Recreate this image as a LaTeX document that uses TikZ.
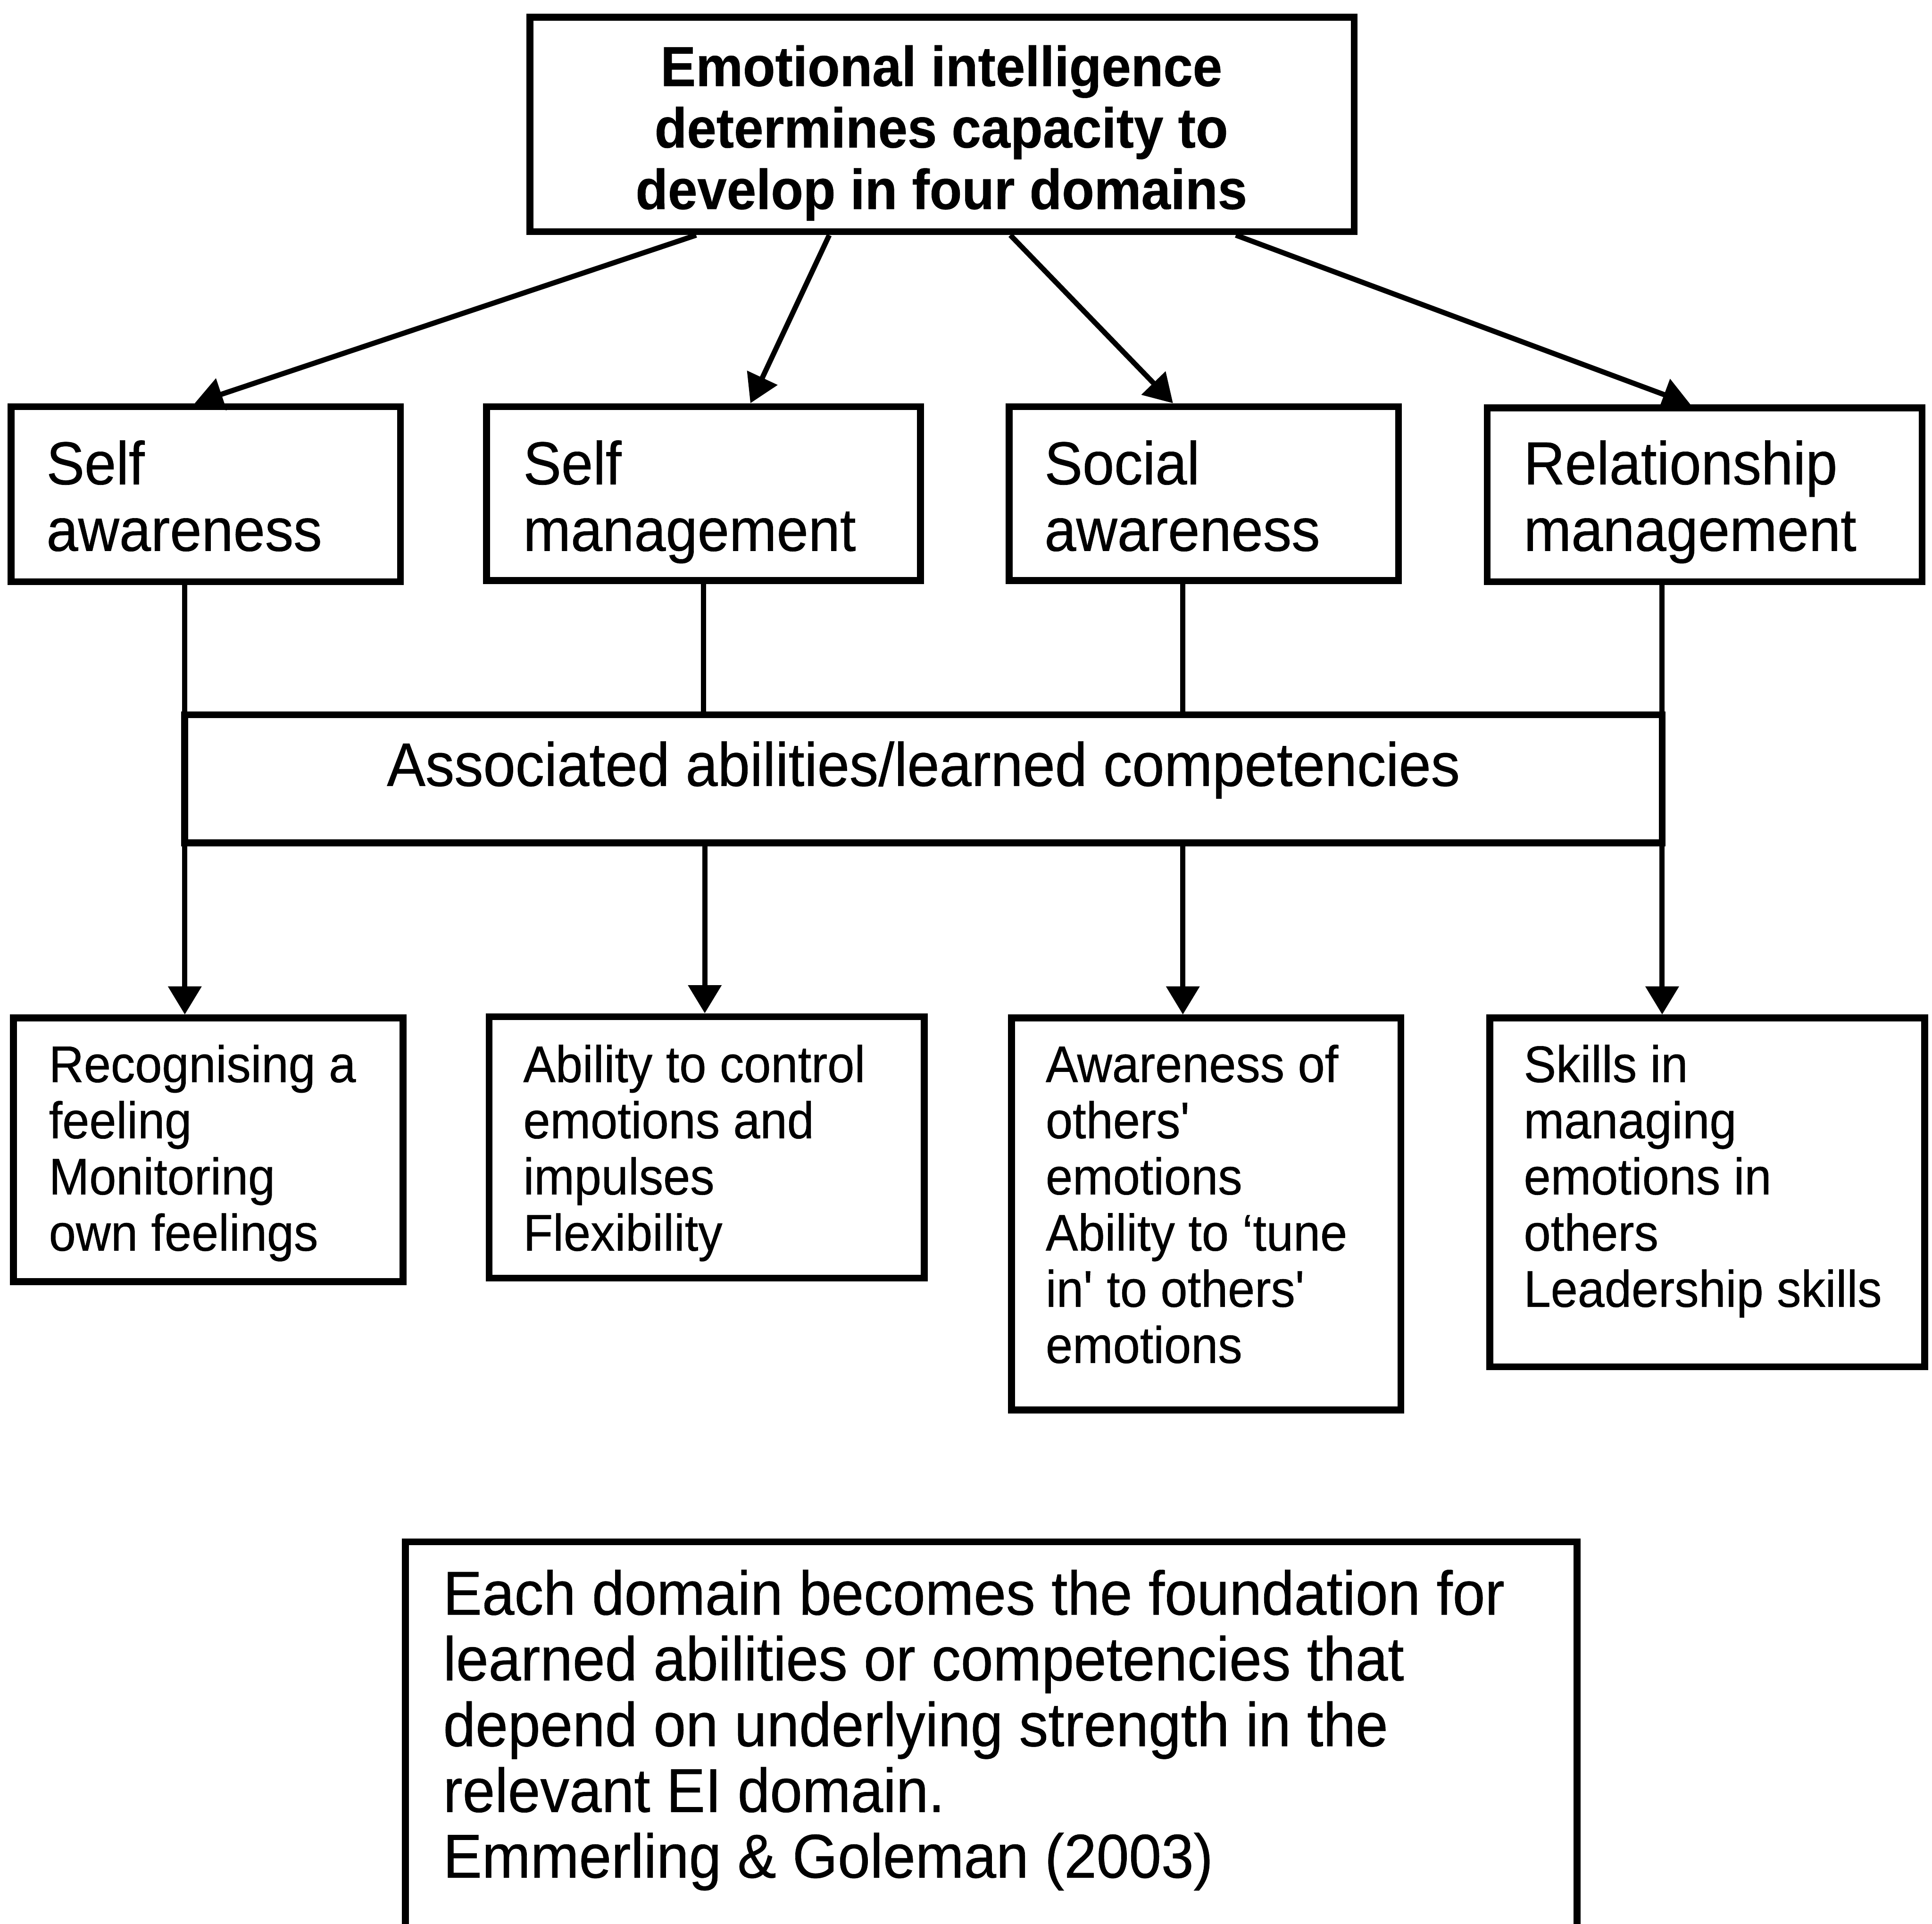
\documentclass[tikz,border=0pt]{standalone}
\usepackage{fontspec}
\setmainfont{Liberation Sans}[FakeStretch=0.94,
  UprightFeatures={FakeBold=0.5}, BoldFeatures={FakeBold=0.5}]
\usetikzlibrary{arrows.meta,fit}

\begin{document}
\begin{tikzpicture}[x=0.1mm,y=-0.1mm,
  frame/.style={draw, line width=1.6pt, inner sep=0pt},
  link/.style={line width=1.2pt},
  arr/.style={link, -{Triangle[length=6.5pt,width=7.5pt]}},
  txt/.style={inner sep=0pt, align=left, anchor=north west},
  domfont/.style={font=\fontsize{14pt}{15.36pt}\selectfont},
  itemfont/.style={font=\fontsize{11.9pt}{12.97pt}\selectfont},
  notefont/.style={font=\fontsize{14.3pt}{15.18pt}\selectfont}
]
\path[use as bounding box, fill=white] (0,0) rectangle (1568,1561);
\clip (0,0) rectangle (1568,1561);

% boxes
\node[frame, fit={(430,14) (1099,188)}] (top) {};
\node[frame, fit={(9,330) (325,472)}] (d1) {};
\node[frame, fit={(395,330) (747,471)}] (d2) {};
\node[frame, fit={(819,330) (1135,471)}] (d3) {};
\node[frame, fit={(1207,331) (1560,472)}] (d4) {};
\node[frame, fit={(150,580) (1349,684)}] (mid) {};
\node[frame, fit={(11,826) (327,1040)}] (b1) {};
\node[frame, fit={(397,825) (750,1037)}] (b2) {};
\node[frame, fit={(821,826) (1137,1144)}] (b3) {};
\node[frame, fit={(1209,826) (1562,1109)}] (b4) {};
\node[frame, fit={(329,1251) (1280,1620)}] (note) {};

% texts
\node[inner sep=0pt, align=center, anchor=north,
      font=\bfseries\fontsize{13pt}{14.2pt}\selectfont] (ttop) at (764,36)
  {Emotional intelligence\\determines capacity to\\develop in four domains};

\node[txt, domfont] (td1) at (37,356.6) {Self\\awareness};
\node[txt, domfont] (td2) at (424,356.6) {Self\\management};
\node[txt, domfont] (td3) at (847,356.6) {Social\\awareness};
\node[txt, domfont] (td4) at (1236,356.6) {Relationship\\management};

\node[inner sep=0pt, anchor=base, font=\fontsize{14.2pt}{16pt}\selectfont] (tmid)
  at (749.5,637.7) {Associated abilities/learned competencies};

\node[txt, itemfont] (tb1) at (39,847) {Recognising a\\feeling\\Monitoring\\own feelings};
\node[txt, itemfont] (tb2) at (424,847) {Ability to control\\emotions and\\impulses\\Flexibility};
\node[txt, itemfont] (tb3) at (848,847)
  {Awareness of\\others\textquotesingle\\emotions\\Ability to ‘tune\\in\textquotesingle{} to others\textquotesingle\\emotions};
\node[txt, itemfont] (tb4) at (1236,847) {Skills in\\managing\\emotions in\\others\\Leadership skills};

\node[txt, notefont] (tnote) at (359,1273)
  {Each domain becomes the foundation for\\learned abilities or competencies that\\depend on underlying strength in the\\relevant EI domain.\\Emmerling \& Goleman (2003)};

% top box to the four domains
\draw[arr] (565,0 |- top.south) -- (158,0 |- d1.north);
\draw[arr] (673,0 |- top.south) -- (609,0 |- d2.north);
\draw[arr] (820,0 |- top.south) -- (952,0 |- d3.north);
\draw[arr] (1003,0 |- top.south) -- (1372,0 |- d4.north);

% domains down to the competencies bar
\draw[link] (150,0 |- d1.south) -- (150,0 |- mid.north);
\draw[link] (571,0 |- d2.south) -- (571,0 |- mid.north);
\draw[link] (960,0 |- d3.south) -- (960,0 |- mid.north);
\draw[link] (1349,0 |- d4.south) -- (1349,0 |- mid.north);

% competencies bar to the ability boxes
\draw[arr] (150,0 |- mid.south) -- (150,0 |- b1.north);
\draw[arr] (572,0 |- mid.south) -- (572,0 |- b2.north);
\draw[arr] (960,0 |- mid.south) -- (960,0 |- b3.north);
\draw[arr] (1349,0 |- mid.south) -- (1349,0 |- b4.north);
\end{tikzpicture}
\end{document}
